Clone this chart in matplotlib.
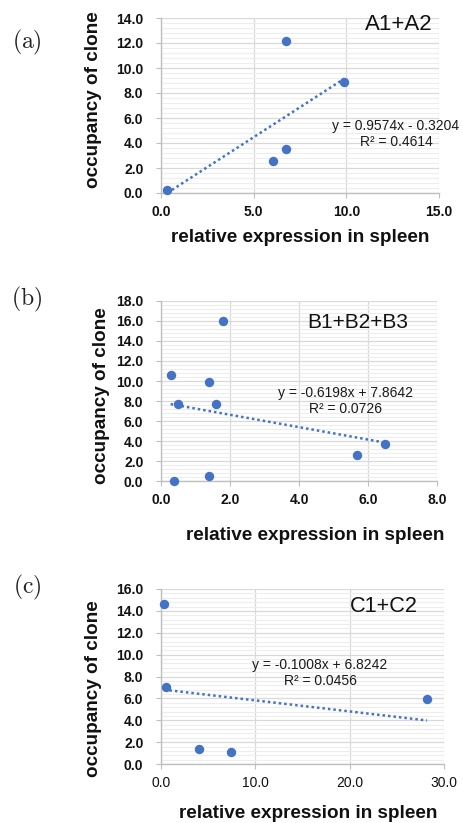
import numpy as np
import matplotlib
matplotlib.use("Agg")
import matplotlib.pyplot as plt
from matplotlib.ticker import MultipleLocator, FormatStrFormatter

plt.rcParams["font.family"] = ["Liberation Sans", "DejaVu Sans"]
plt.rcParams["mathtext.fontset"] = "cm"

# ---- data ----
a_x = [0.34, 6.06, 6.74, 6.74, 9.89]
a_y = [0.24, 2.53, 3.55, 12.13, 8.85]
a_fit = (0.9574, -0.3204, 0.4614)

b_x = [0.28, 0.48, 0.38, 1.38, 1.38, 1.58, 1.79, 5.68, 6.50]
b_y = [10.6, 7.7, 0.0, 9.93, 0.47, 7.7, 16.0, 2.6, 3.7]
b_fit = (-0.6198, 7.8642, 0.0726)

c_x = [0.32, 0.53, 4.02, 7.41, 28.2]
c_y = [14.6, 7.0, 1.4, 1.09, 5.9]
c_fit = (-0.1008, 6.8242, 0.0456)

names = ["A1+A2", "B1+B2+B3", "C1+C2"]
panel_tags = ["(a)", "(b)", "(c)"]

W, H = 464, 823
BLUE = "#4472C4"


def fx(px):
    return px / W


def fy(py):
    return 1 - py / H


def fmt_eq(slope, icpt, r2):
    sign = "+" if icpt >= 0 else "-"
    return f"y = {slope:.4f}x {sign} {abs(icpt):.4f}\nR² = {r2:.4f}"


# pixel layouts: axes box, x/y limits, tick steps, label positions
panels = [
    dict(x=a_x, y=a_y, fit=a_fit, box=(161, 439, 18, 193), xlim=15.0, ylim=14.0,
         xstep=5.0, xbold=True, name_xy=(433, 25), name_fs=16,
         eq_xy=(396, 134), ylab=(94, 100), xlab=(300, 238), tag=(27, 42)),
    dict(x=b_x, y=b_y, fit=b_fit, box=(161, 437, 301, 481), xlim=8.0, ylim=18.0,
         xstep=2.0, xbold=True, name_xy=(408, 323), name_fs=15,
         eq_xy=(346, 401), ylab=(102, 396), xlab=(315, 535), tag=(27, 299)),
    dict(x=c_x, y=c_y, fit=c_fit, box=(161, 444, 589, 764), xlim=30.0, ylim=16.0,
         xstep=10.0, xbold=False, name_xy=(418, 607), name_fs=15.6,
         eq_xy=(320, 673), ylab=(94, 689), xlab=(308, 813), tag=(27, 587)),
]

fig = plt.figure(figsize=(W / 100, H / 100), dpi=100)

for i, p in enumerate(panels):
    l, r, t, b = p["box"]
    ax = fig.add_axes([fx(l), fy(b), (r - l) / W, (b - t) / H])
    ax.set_xlim(0, p["xlim"])
    ax.set_ylim(0, p["ylim"])

    ax.yaxis.set_major_locator(MultipleLocator(2.0))
    ax.yaxis.set_minor_locator(MultipleLocator(0.4))
    ax.xaxis.set_major_locator(MultipleLocator(p["xstep"]))
    ax.xaxis.set_major_formatter(FormatStrFormatter("%.1f"))
    ax.yaxis.set_major_formatter(FormatStrFormatter("%.1f"))

    ax.grid(which="major", axis="both", color="#D9D9D9", lw=0.9)
    ax.grid(which="minor", axis="y", color="#EDEDED", lw=0.8)
    ax.set_axisbelow(True)
    for s in ["top", "right"]:
        ax.spines[s].set_visible(False)
    for s in ["left", "bottom"]:
        ax.spines[s].set_color("#BFBFBF")
        ax.spines[s].set_linewidth(1.0)

    ax.tick_params(axis="y", which="major", length=3.6, width=0.8, color="#BFBFBF",
                   pad=9, labelsize=10, labelcolor="#111111")
    ax.tick_params(axis="x", which="major", length=3.6, width=0.8, color="#BFBFBF",
                   pad=5, labelsize=10, labelcolor="#111111")
    ax.tick_params(which="minor", length=0)
    for lab in ax.get_yticklabels():
        lab.set_fontweight("bold")
    for lab in ax.get_xticklabels():
        lab.set_fontweight("bold" if p["xbold"] else "normal")

    ax.scatter(p["x"], p["y"], s=46, color=BLUE, zorder=3, linewidths=0, clip_on=False)

    slope, icpt, r2 = p["fit"]
    xs = np.array([min(p["x"]), max(p["x"])])
    ax.plot(xs, slope * xs + icpt, color=BLUE, lw=1.8, linestyle=(0, (1, 1.2)), zorder=2)

    fig.text(fx(p["name_xy"][0]), fy(p["name_xy"][1]), names[i], fontsize=p["name_fs"],
             ha="right", va="center", color="#111111")
    fig.text(fx(p["eq_xy"][0]), fy(p["eq_xy"][1]), fmt_eq(slope, icpt, r2), fontsize=10,
             ha="center", va="center", multialignment="center", linespacing=1.1,
             color="#1a1a1a")
    fig.text(fx(p["ylab"][0]), fy(p["ylab"][1]), "occupancy of clone", rotation=90,
             fontsize=13.6, fontweight="bold", ha="center", va="center", color="#111111")
    fig.text(fx(p["xlab"][0]), fy(p["xlab"][1]), "relative expression in spleen",
             fontsize=13.6, fontweight="bold", ha="center", va="center", color="#111111")
    fig.text(fx(p["tag"][0]), fy(p["tag"][1]), r"$\mathrm{" + panel_tags[i] + "}$",
             fontsize=17, ha="center", va="center", color="#222222")

fig.savefig("out.png", dpi=100)
